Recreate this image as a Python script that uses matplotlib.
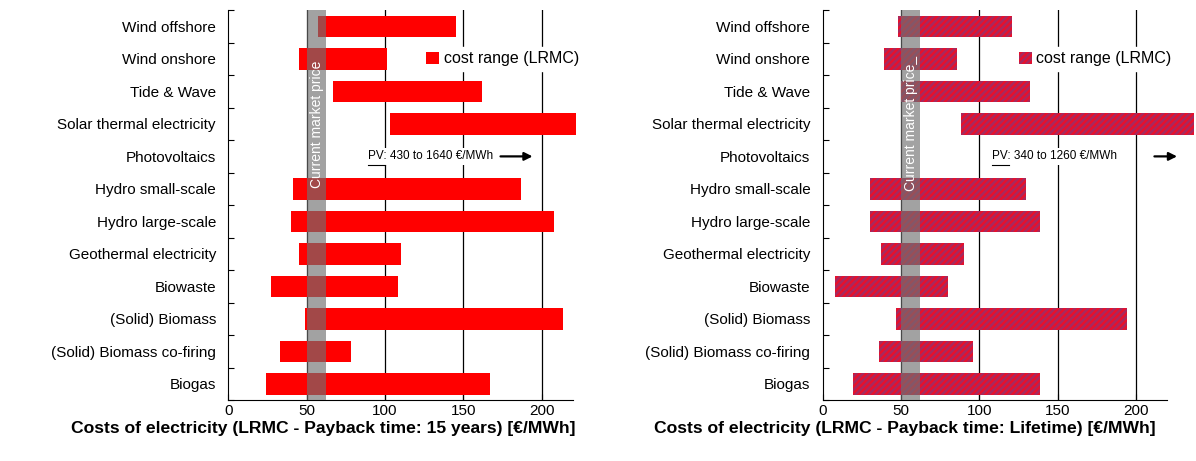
import matplotlib.pyplot as plt
import matplotlib as mpl
import numpy as np

cats = ["Wind offshore","Wind onshore","Tide & Wave","Solar thermal electricity","Photovoltaics",
        "Hydro small-scale","Hydro large-scale","Geothermal electricity","Biowaste","(Solid) Biomass",
        "(Solid) Biomass co-firing","Biogas"]
low15 = [57,45,67,103.5,np.nan,41,40,45,27,49,33,24]
high15 = [145.5,101,162,222,np.nan,187,208,110,108,214,78,167]
lowL = [48,39,50,88.5,np.nan,30,30,37,8,47,36,19]
highL = [121,86,132,237,np.nan,130,139,90,80,194,96,139]
market = (50, 62)

mpl.rcParams['font.family'] = ['Liberation Sans', 'DejaVu Sans']
mpl.rcParams['hatch.linewidth'] = 1.6
mpl.rcParams['hatch.color'] = '#e8102a'
fig = plt.figure(figsize=(11.96, 4.61), dpi=100)
axes = [fig.add_axes([0.191, 0.132, 0.288, 0.846]), fig.add_axes([0.688, 0.132, 0.288, 0.846])]
titles = ["Costs of electricity (LRMC - Payback time: 15 years) [€/MWh]",
          "Costs of electricity (LRMC - Payback time: Lifetime) [€/MWh]"]
pvtxt = ["430 to 1640 €/MWh", "340 to 1260 €/MWh"]
pv_x = [89, 108]
arr = [(172, 196), (210, 228)]
leg_x = [118, 117]
lab_x = [0.275, 0.238]
y = np.arange(len(cats))[::-1]
for i, (ax, lo, hi) in enumerate(zip(axes, [low15, lowL], [high15, highL])):
    lo = np.array(lo); hi = np.array(hi)
    for x in [50, 100, 150, 200]:
        ax.axvline(x, color='black', lw=0.9, zorder=0)
    if i == 0:
        ax.barh(y, hi - lo, left=lo, height=0.66, color='#ff0000', zorder=2, clip_on=False,
                label='cost range (LRMC)')
    else:
        ax.barh(y, hi - lo, left=lo, height=0.66, color='#a8285e', hatch='/////', lw=0,
                zorder=2, clip_on=False, label='cost range (LRMC)')
    ax.axvspan(*market, color='#707070', alpha=0.65, zorder=3, lw=0)
    ax.text(56.5, 8.0, "Current market price" + ("_" if i else ""), rotation=90, color='white',
            fontsize=10, ha='center', va='center', zorder=4)
    ax.set_xlim(0, 220)
    ax.set_ylim(-0.5, len(cats) - 0.5)
    ax.set_yticks(np.arange(-0.5, len(cats), 1))
    ax.set_yticklabels([])
    ax.set_yticks(y, cats, minor=True)
    ax.tick_params(axis='y', which='minor', length=0, labelsize=11, pad=9)
    ax.tick_params(axis='y', which='major', length=4, direction='in')
    ax.tick_params(axis='x', labelsize=11, direction='in', length=4, pad=3)
    ax.set_xticks([0, 50, 100, 150, 200])
    for s in ['top', 'right']:
        ax.spines[s].set_visible(False)
    ax.text(lab_x[i], -0.072, titles[i], transform=ax.transAxes, ha='center', va='center',
            fontsize=12.6, fontweight='bold')
    leg = ax.legend(loc='center left', bbox_to_anchor=(leg_x[i], y[1]), bbox_transform=ax.transData,
                    frameon=True, fontsize=11.5,
                    handlelength=0.8, handleheight=0.8, handletextpad=0.3, borderpad=0.3,
                    framealpha=1, edgecolor='white', fancybox=False)
    leg.set_zorder(5)
    ax.text(pv_x[i], y[4], "PV: " + pvtxt[i], ha='left', va='center', fontsize=8.5, zorder=5,
            bbox=dict(facecolor='white', edgecolor='none', pad=2))
    ax.plot([pv_x[i], pv_x[i] + 11], [y[4] - 0.28] * 2, color='black', lw=0.8, zorder=6,
            clip_on=False)
    ax.annotate("", xy=(arr[i][1], y[4]), xytext=(arr[i][0], y[4]), xycoords='data',
                arrowprops=dict(arrowstyle='-|>', color='black', lw=1.6, mutation_scale=12),
                zorder=6, annotation_clip=False)
fig.savefig('out.png')
